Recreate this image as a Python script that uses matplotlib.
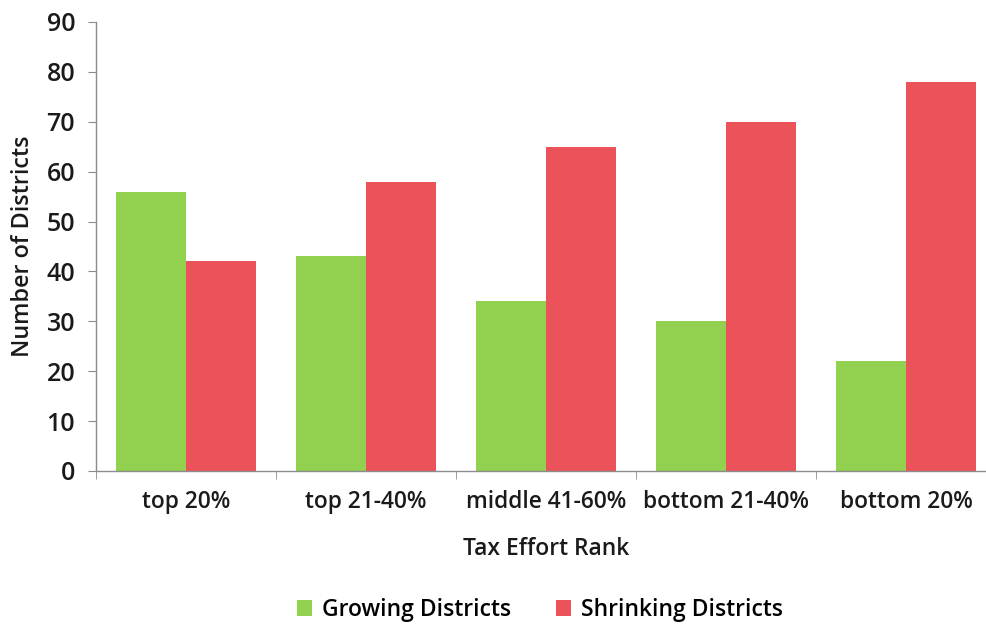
import matplotlib
matplotlib.use("Agg")
import matplotlib.pyplot as plt
import numpy as np

categories = ["top 20%", "top 21-40%", "middle 41-60%", "bottom 21-40%", "bottom 20%"]
growing = [56, 43, 34, 30, 22]
shrinking = [42, 58, 65, 70, 78]
y_ticks = [0, 10, 20, 30, 40, 50, 60, 70, 80, 90]

plt.rcParams['font.family'] = ['Open Sans', 'DejaVu Sans']

GREEN = "#92D050"
RED = "#EB525A"
AXIS = "#8C8C8C"
TEXT = "#1a1a1a"

fig = plt.figure(figsize=(9.87, 6.25), dpi=100)
ax = fig.add_axes([96 / 987, 154 / 625, 900 / 987, 449 / 625])

x = np.arange(len(categories))
w = 0.39
ax.bar(x - w / 2, growing, width=w, color=GREEN, label="Growing Districts")
ax.bar(x + w / 2, shrinking, width=w, color=RED, label="Shrinking Districts")

ax.set_xlim(-0.5, len(categories) - 0.5)
ax.set_ylim(0, 90)
ax.set_yticks(y_ticks)
ax.set_xticks(x)
ax.set_xticklabels(categories)
ax.set_xticks(np.arange(len(categories) + 1) - 0.5, minor=True)

for s in ["top", "right"]:
    ax.spines[s].set_visible(False)
for s in ["left", "bottom"]:
    ax.spines[s].set_color(AXIS)
    ax.spines[s].set_linewidth(1.0)

ax.tick_params(axis="y", length=6, color=AXIS, labelsize=18, pad=9)
ax.tick_params(axis="x", which="major", length=0, labelsize=16.4, pad=14)
ax.tick_params(axis="x", which="minor", length=6, color=AXIS)
for lab in ax.get_yticklabels() + ax.get_xticklabels():
    lab.set_fontweight("semibold")
    lab.set_color(TEXT)

ax.set_ylabel("Number of Districts", fontsize=16.8, fontweight="semibold", color=TEXT, labelpad=8)
ax.set_xlabel("Tax Effort Rank", fontsize=16.5, fontweight="semibold", color=TEXT, labelpad=16)

fig.legend(loc="center", bbox_to_anchor=(540 / 987, 1 - 610 / 625), ncol=2, frameon=False,
           handlelength=0.65, handleheight=0.65, handletextpad=0.4, columnspacing=2.0,
           prop={"size": 16.5, "weight": "semibold"})

fig.savefig("out.png", dpi=100)
